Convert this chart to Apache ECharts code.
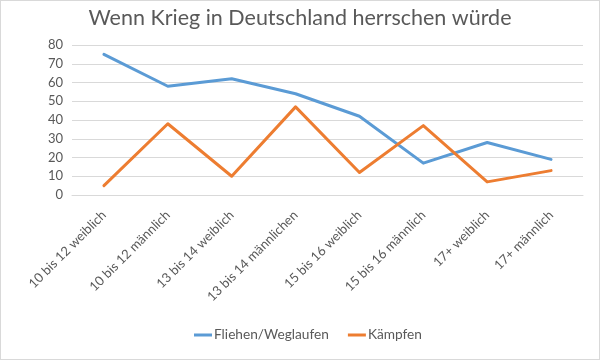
<!DOCTYPE html>
<html><head><meta charset="utf-8">
<script src="https://cdn.jsdelivr.net/npm/echarts@6/dist/echarts.min.js"></script>
<style>html,body{margin:0;padding:0;background:#fff}#c{width:600px;height:360px;box-sizing:border-box;border:1px solid #d9d9d9}</style>
</head><body><div id="c"></div>
<script>
const categories = ["10 bis 12 weiblich","10 bis 12 männlich","13 bis 14 weiblich","13 bis 14 männlichen","15 bis 16 weiblich","15 bis 16 männlich","17+ weiblich","17+ männlich"];
const fliehen = [75, 58, 62, 54, 42, 17, 28, 19];
const kaempfen = [5, 38, 10, 47, 12, 37, 7, 13];
const seriesNames = ["Fliehen/Weglaufen", "Kämpfen"];
const yTicks = {min: 0, max: 80, interval: 10};

const font = "Lato, 'Open Sans', sans-serif";
const chart = echarts.init(document.getElementById('c'), null, {renderer: 'canvas'});
chart.setOption({
  animation: false,
  title: {text: "Wenn Krieg in Deutschland herrschen würde", left: 'center', top: 1,
    textStyle: {fontFamily: font, fontSize: 21.5, fontWeight: 'normal', color: '#595959'}},
  grid: {left: 71, right: 16, top: 44, bottom: 164, containLabel: false},
  legend: {bottom: 12, left: 188, icon: 'rect', itemWidth: 18, itemHeight: 3, itemGap: 19,
    textStyle: {fontFamily: font, fontSize: 13.7, color: '#595959', padding: [0,0,0,-3]},
    data: seriesNames},
  xAxis: {type: 'category', data: categories, boundaryGap: true,
    axisLine: {lineStyle: {color: '#d9d9d9', width: 1}}, axisTick: {show: false},
    axisLabel: {rotate: 45, interval: 0, margin: 18, fontFamily: font, fontSize: 13, color: '#595959'}},
  yAxis: {type: 'value', min: yTicks.min, max: yTicks.max, interval: yTicks.interval,
    axisLine: {show: false}, axisTick: {show: false},
    splitLine: {lineStyle: {color: '#d9d9d9', width: 1}},
    axisLabel: {margin: 9, fontFamily: font, fontSize: 13, color: '#595959'}},
  series: [
    {name: seriesNames[0], type: 'line', data: fliehen, symbol: 'none', color: '#5B9BD5',
      lineStyle: {width: 3, color: '#5B9BD5', cap: 'round', join: 'round'}},
    {name: seriesNames[1], type: 'line', data: kaempfen, symbol: 'none', color: '#ED7D31',
      lineStyle: {width: 3, color: '#ED7D31', cap: 'round', join: 'round'}}
  ]
});
</script></body></html>
